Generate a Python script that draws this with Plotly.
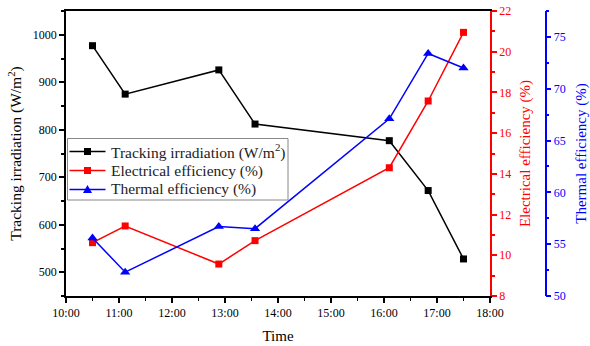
import plotly.graph_objects as go

times = ["2020-01-01 10:30", "2020-01-01 11:07", "2020-01-01 12:53", "2020-01-01 13:34",
         "2020-01-01 16:06", "2020-01-01 16:50", "2020-01-01 17:30"]
irradiation = [977, 875, 926, 812, 777, 672, 528]
electrical_eff = [10.62, 11.44, 9.57, 10.72, 14.30, 17.58, 20.95]
thermal_eff = [55.6, 52.3, 56.7, 56.5, 67.1, 73.4, 72.0]

series_names = ["Tracking irradiation (W/m<sup>2</sup>)", "Electrical efficiency (%)", "Thermal efficiency (%)"]
series_colors = ["black", "red", "blue"]
series_symbols = ["square", "square", "triangle-up"]

FONT = "Liberation Serif, 'Times New Roman', serif"

fig = go.Figure()
for vals, name, col, sym, ax in zip([irradiation, electrical_eff, thermal_eff], series_names,
                                     series_colors, series_symbols, ["y", "y2", "y3"]):
    fig.add_trace(go.Scatter(x=times, y=vals, mode="lines+markers", name=name,
                             line=dict(color=col, width=1.5),
                             marker=dict(symbol=sym, size=9 if sym == "triangle-up" else 7, color=col),
                             yaxis=ax, showlegend=False))

W, H = 590, 346
ml, mr, mt, mb = 66, 40, 11, 50
pw = W - ml - mr
ph = H - mt - mb
xdom = (490 - ml) / pw
pos3 = (545.7 - ml) / pw


def fx(px):
    return (px - ml) / pw


def fy(py):
    return (H - mb - py) / ph


# custom legend (box, glyphs, labels) in paper coordinates
shapes = [dict(type="rect", xref="paper", yref="paper", x0=fx(67.5), x1=fx(288), y0=fy(200), y1=fy(138.5),
               line=dict(color="#888888", width=1), fillcolor="white", layer="above")]
annotations = []
rows = [151.5, 170.5, 189.5]
for ry, name, col, sym in zip(rows, series_names, series_colors, series_symbols):
    shapes.append(dict(type="line", xref="paper", yref="paper", x0=fx(69.5), x1=fx(105.5), y0=fy(ry), y1=fy(ry),
                       line=dict(color=col, width=1.5), layer="above"))
    if sym == "square":
        shapes.append(dict(type="rect", xref="paper", yref="paper", x0=fx(84), x1=fx(91), y0=fy(ry + 3.5), y1=fy(ry - 3.5),
                           line=dict(color=col, width=0), fillcolor=col, layer="above"))
    else:
        path = "M {} {} L {} {} L {} {} Z".format(fx(83), fy(ry + 3.5), fx(92), fy(ry + 3.5), fx(87.5), fy(ry - 4.5))
        shapes.append(dict(type="path", xref="paper", yref="paper", path=path,
                           line=dict(color=col, width=0), fillcolor=col, layer="above"))
    annotations.append(dict(xref="paper", yref="paper", x=fx(109), y=fy(ry), xanchor="left", yanchor="middle",
                            text=name, showarrow=False, font=dict(family=FONT, size=15.5, color="#222")))

fig.update_layout(
    width=W, height=H,
    margin=dict(l=ml, r=mr, t=mt, b=mb),
    paper_bgcolor="white", plot_bgcolor="white",
    font=dict(family=FONT, size=12, color="black"),
    showlegend=False,
    shapes=shapes, annotations=annotations,
    xaxis=dict(domain=[0, xdom], type="date",
               range=["2020-01-01 10:00", "2020-01-01 18:00"],
               dtick=3600000, tickformat="%H:%M",
               ticks="outside", ticklen=5, tickwidth=1.5, tickcolor="black",
               minor=dict(dtick=1800000, ticks="outside", ticklen=3, tickcolor="black", tickwidth=1.2),
               showline=True, linecolor="black", linewidth=1.5, mirror=True,
               showgrid=False, zeroline=False,
               tickfont=dict(family=FONT, size=12, color="black"),
               title=dict(text="Time", font=dict(family=FONT, size=15), standoff=11),
               automargin=False),
    yaxis=dict(range=[450, 1050],
               tickvals=[500, 600, 700, 800, 900, 1000],
               ticks="outside", ticklen=5, tickwidth=1.5, tickcolor="black",
               minor=dict(tickvals=[450, 550, 650, 750, 850, 950, 1050], ticks="outside", ticklen=3, tickcolor="black"),
               showline=True, linecolor="black", linewidth=1.5,
               showgrid=False, zeroline=False,
               tickfont=dict(family=FONT, size=12, color="black"),
               title=dict(text="Tracking irradiation (W/m<sup>2</sup>)", font=dict(family=FONT, size=15.5), standoff=7),
               automargin=False),
    yaxis2=dict(range=[8, 22], dtick=2, tick0=8, overlaying="y", side="right", anchor="x",
                ticks="outside", ticklen=5, tickwidth=1.5, tickcolor="red",
                minor=dict(dtick=1, ticks="outside", ticklen=3, tickcolor="red"),
                showline=True, linecolor="red", linewidth=1.5,
                showgrid=False, zeroline=False,
                tickfont=dict(family=FONT, size=12, color="red"),
                title=dict(text="Electrical efficiency (%)", font=dict(family=FONT, size=15, color="red"), standoff=9),
                automargin=False),
    yaxis3=dict(range=[50, 77.5], dtick=5, tick0=50, overlaying="y", side="right",
                anchor="free", position=pos3,
                ticks="outside", ticklen=5, tickwidth=1.5, tickcolor="blue",
                minor=dict(dtick=2.5, ticks="outside", ticklen=3, tickcolor="blue"),
                showline=True, linecolor="blue", linewidth=1.5,
                showgrid=False, zeroline=False,
                tickfont=dict(family=FONT, size=12, color="blue"),
                title=dict(text="Thermal efficiency (%)", font=dict(family=FONT, size=15, color="blue"), standoff=10),
                automargin=False),
)

fig.write_html("out.html", config={"displayModeBar": False},
               post_script="document.body.style.margin='0px';document.body.style.overflow='hidden';")
